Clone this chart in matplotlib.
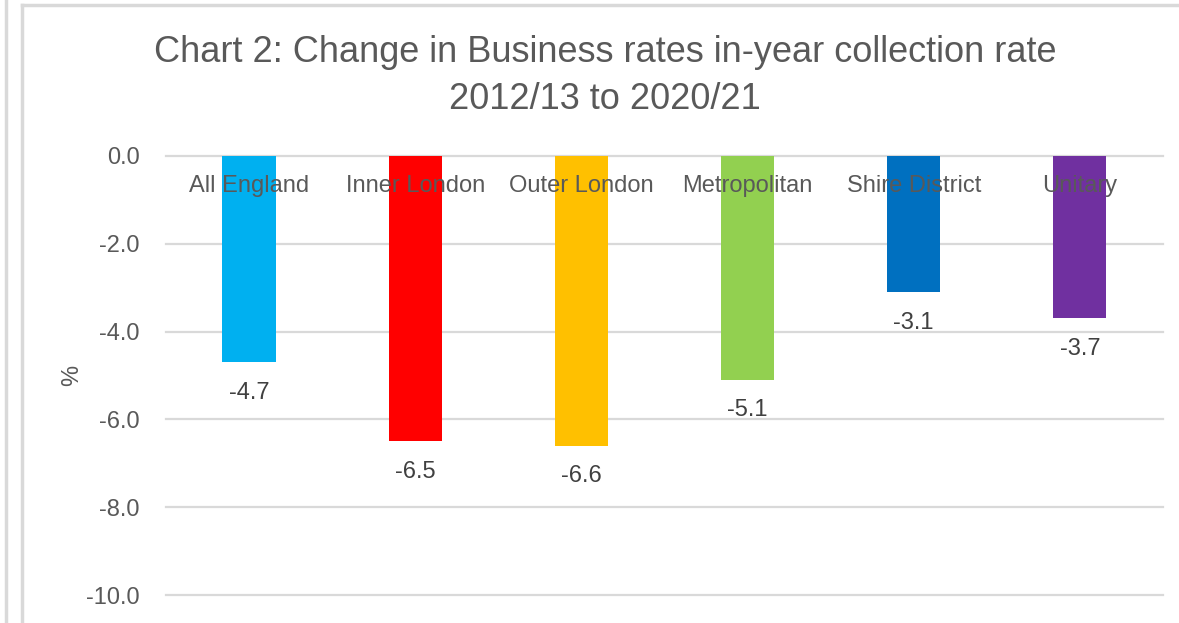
import matplotlib.pyplot as plt
from matplotlib.lines import Line2D

plt.rcParams['font.family'] = ['Liberation Sans', 'DejaVu Sans']

categories = ['All England', 'Inner London', 'Outer London', 'Metropolitan',
              'Shire District', 'Unitary']
values = [-4.7, -6.5, -6.6, -5.1, -3.1, -3.7]
colors = ['#00B0F0', '#FF0000', '#FFC000', '#92D050', '#0070C0', '#7030A0']
yticks = [0, -2, -4, -6, -8, -10]

fig = plt.figure(figsize=(11.79, 6.23), dpi=100)
ax = fig.add_axes([0.1408, 0.0449, 0.8456, 0.7047])

# frame lines of the original screenshot
grey = '#D9D9D9'
fig.add_artist(Line2D([0.0051, 0.0051], [0, 1], color=grey, lw=2.5))
fig.add_artist(Line2D([0.0187, 0.0187], [0, 0.992], color=grey, lw=2.5))
fig.add_artist(Line2D([0.0187, 1], [0.992, 0.992], color=grey, lw=2.5))

for y in yticks:
    ax.axhline(y, color=grey, lw=1.6, zorder=1.5, clip_on=False)

x = range(len(categories))
bars = ax.bar(x, values, width=0.32, color=colors, zorder=2)
ax.bar_label(bars, labels=[f'{v:.1f}' for v in values], padding=14,
             fontsize=17, color='#404040', zorder=1)

for i, name in enumerate(categories):
    ax.text(i, -0.68, name, ha='center', va='center', fontsize=17,
            color='#595959', zorder=4)

ax.set_xlim(-0.5, len(categories) - 0.5)
ax.set_ylim(-10, 0)
ax.set_yticks(yticks)
ax.set_yticklabels([f'{t:.1f}' for t in yticks])
ax.tick_params(axis='y', length=0, pad=19, labelsize=17, labelcolor='#595959')
ax.set_xticks([])
for s in ax.spines.values():
    s.set_visible(False)
ax.set_ylabel('%', fontsize=17, color='#595959', labelpad=12)
ax.yaxis.set_label_coords(-0.083, 0.5)

fig.text(0.513, 0.915, 'Chart 2: Change in Business rates in-year collection rate',
         ha='center', va='center', fontsize=26, color='#595959')
fig.text(0.513, 0.84, '2012/13 to 2020/21',
         ha='center', va='center', fontsize=26, color='#595959')

fig.savefig('out.png', dpi=100)
